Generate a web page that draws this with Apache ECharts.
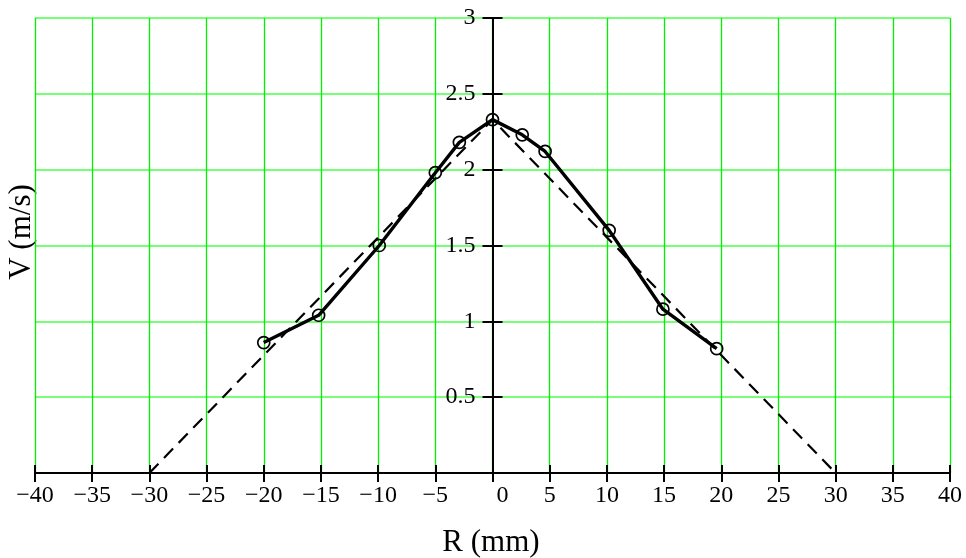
<!DOCTYPE html>
<html>
<head>
<meta charset="utf-8">
<script src="https://cdn.jsdelivr.net/npm/echarts@6/dist/echarts.min.js"></script>
<style>html,body{margin:0;padding:0;background:#fff}#c{width:966px;height:558px}</style>
</head>
<body>
<div id="c"></div>
<script>
// measured data (R in mm, V in m/s)
var rValues = [-20, -15.2, -9.9, -5, -2.9, 0, 2.6, 4.6, 10.2, 14.9, 19.6];
var vValues = [0.86, 1.04, 1.50, 1.98, 2.18, 2.33, 2.23, 2.12, 1.60, 1.08, 0.82];
// dashed triangular profile
var dashR = [-30, 0, 30];
var dashV = [0, 2.33, 0];
var xTicks = [-40, -35, -30, -25, -20, -15, -10, -5, 0, 5, 10, 15, 20, 25, 30, 35, 40];
var yTicks = [0.5, 1, 1.5, 2, 2.5, 3];

var FONT = '"Liberation Serif", "Times New Roman", serif';
function pairs(a, b) { return a.map(function (v, i) { return [v, b[i]]; }); }

var W = 966, GL = 35, GR = 16;
var yOffset = -((W - GL - GR) / 2); // place y axis at R = 0 (center of symmetric x range)
var xMin = xTicks[0], xMax = xTicks[xTicks.length - 1];
var yMax = yTicks[yTicks.length - 1];

var chart = echarts.init(document.getElementById('c'), null, {renderer: 'canvas'});
var axisFont = {fontFamily: FONT, fontSize: 24, color: '#000'};
var tickStyle = {color: '#000', width: 2};
chart.setOption({
  animation: false,
  backgroundColor: '#fff',
  grid: {left: GL, right: GR, top: 18, bottom: 85, containLabel: false, outerBoundsMode: 'none'},
  xAxis: [{
    type: 'value', min: xMin, max: xMax, interval: 5,
    axisLine: {onZero: false, lineStyle: {color: '#000', width: 2}},
    axisTick: {show: true, inside: false, length: 9, lineStyle: tickStyle},
    splitLine: {show: true, lineStyle: {color: '#00f000', width: 1.3}},
    axisLabel: Object.assign({
      margin: 11,
      formatter: function (v) {
        if (v === 0) return '{z|0}';
        return String(v).replace('-', '\u2212');
      },
      rich: {z: {fontFamily: FONT, fontSize: 24, color: '#000', padding: [0, 0, 0, 20]}}
    }, axisFont)
  }, {
    type: 'value', min: xMin, max: xMax, interval: 5, position: 'bottom',
    axisLine: {show: false, onZero: false},
    axisTick: {show: true, inside: true, length: 8, lineStyle: tickStyle},
    splitLine: {show: false},
    axisLabel: {show: false}
  }],
  yAxis: [{
    type: 'value', min: 0, max: yMax, interval: 0.5,
    position: 'left', offset: yOffset,
    axisLine: {show: true, onZero: false, lineStyle: {color: '#000', width: 2}},
    axisTick: {show: true, inside: false, length: 10, lineStyle: tickStyle},
    splitLine: {show: true, lineStyle: {color: '#77ff77', width: 2}},
    axisLabel: Object.assign({margin: 17, showMinLabel: false}, axisFont)
  }, {
    type: 'value', min: 0, max: yMax, interval: 0.5,
    position: 'left', offset: yOffset,
    axisLine: {show: false, onZero: false},
    axisTick: {show: true, inside: true, length: 10, lineStyle: tickStyle},
    splitLine: {show: false},
    axisLabel: {show: false}
  }],
  graphic: [{
    type: 'text', x: 491, y: 543,
    style: {text: 'R (mm)', fontFamily: FONT, fontSize: 31, fill: '#000', textAlign: 'center', textVerticalAlign: 'middle'}
  }, {
    type: 'text', x: 22, y: 232, rotation: Math.PI / 2,
    style: {text: 'V (m/s)', fontFamily: FONT, fontSize: 31, fill: '#000', textAlign: 'center', textVerticalAlign: 'middle'}
  }],
  series: [{
    type: 'line',
    data: pairs(dashR, dashV),
    showSymbol: false,
    lineStyle: {color: '#000', width: 2.2, type: [13, 8]},
    z: 3
  }, {
    type: 'line',
    data: pairs(rValues, vValues),
    symbol: 'circle', symbolSize: 12, showSymbol: true,
    lineStyle: {color: '#000', width: 3.4},
    itemStyle: {color: 'rgba(255,255,255,0)', borderColor: '#000', borderWidth: 1.7},
    z: 4
  }]
});
</script>
</body>
</html>
